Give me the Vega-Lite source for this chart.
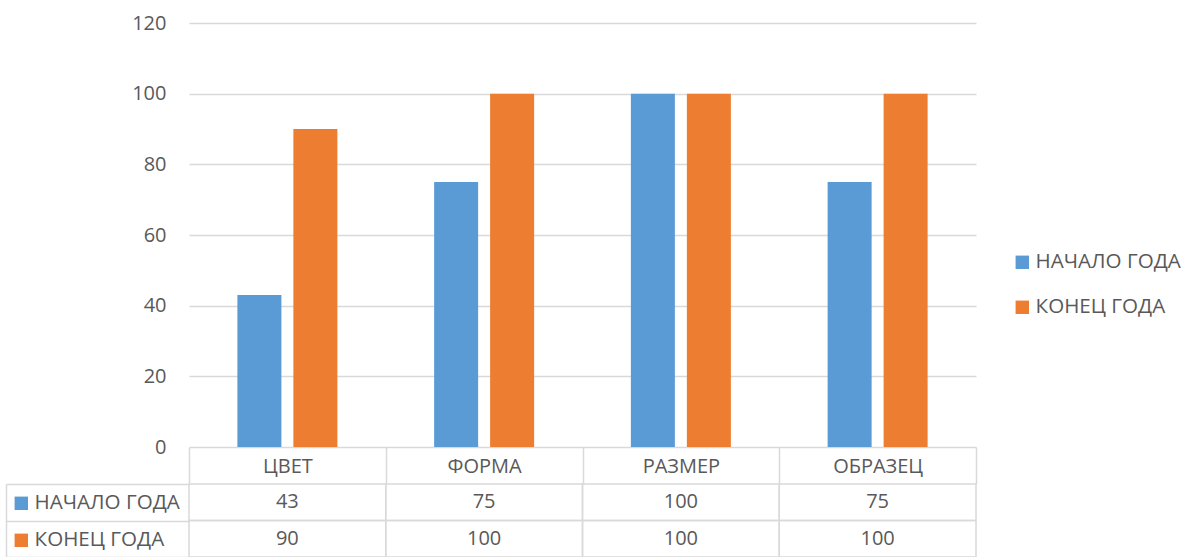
{
  "$schema": "https://vega.github.io/schema/vega-lite/v6.json",
  "padding": {"top": 13, "left": 5, "right": 0, "bottom": 0},
  "autosize": {"type": "pad"},
  "background": "white",
  "config": {
    "view": {"stroke": null},
    "font": "Open Sans",
    "axis": {"labelFont": "Open Sans", "labelColor": "#595959", "labelFontSize": 20},
    "legend": {"labelFont": "Open Sans", "labelColor": "#595959", "labelFontSize": 20.6}
  },
  "data": {
    "values": [
      {"category": "ЦВЕТ", "series": "НАЧАЛО ГОДА", "row": "НАЧАЛО ГОДА", "value": 43},
      {"category": "ФОРМА", "series": "НАЧАЛО ГОДА", "row": "НАЧАЛО ГОДА", "value": 75},
      {"category": "РАЗМЕР", "series": "НАЧАЛО ГОДА", "row": "НАЧАЛО ГОДА", "value": 100},
      {"category": "ОБРАЗЕЦ", "series": "НАЧАЛО ГОДА", "row": "НАЧАЛО ГОДА", "value": 75},
      {"category": "ЦВЕТ", "series": "КОНЕЦ ГОДА", "row": "КОНЕЦ ГОДА", "value": 90},
      {"category": "ФОРМА", "series": "КОНЕЦ ГОДА", "row": "КОНЕЦ ГОДА", "value": 100},
      {"category": "РАЗМЕР", "series": "КОНЕЦ ГОДА", "row": "КОНЕЦ ГОДА", "value": 100},
      {"category": "ОБРАЗЕЦ", "series": "КОНЕЦ ГОДА", "row": "КОНЕЦ ГОДА", "value": 100}
    ]
  },
  "vconcat": [
    {
      "width": 787,
      "height": 424,
      "mark": {"type": "bar"},
      "encoding": {
        "x": {
          "field": "category", "type": "nominal",
          "sort": ["ЦВЕТ", "ФОРМА", "РАЗМЕР", "ОБРАЗЕЦ"],
          "scale": {"paddingInner": 0, "paddingOuter": 0},
          "axis": {
            "title": null, "domain": false, "labelAngle": 0,
            "ticks": true, "tickBand": "extent", "tickSize": 37, "tickColor": "#d9d9d9", "tickWidth": 1.5,
            "labelBaseline": "middle", "labelPadding": -18
          }
        },
        "xOffset": {
          "field": "series", "type": "nominal",
          "sort": ["НАЧАЛО ГОДА", "КОНЕЦ ГОДА"],
          "scale": {"paddingInner": 0.214, "paddingOuter": 0.864}
        },
        "y": {
          "field": "value", "type": "quantitative",
          "scale": {"domain": [0, 120], "nice": false},
          "axis": {
            "title": null, "domain": false, "ticks": false,
            "values": [0, 20, 40, 60, 80, 100, 120],
            "labelPadding": 23, "gridColor": "#d9d9d9", "gridWidth": 1.5
          }
        },
        "color": {
          "field": "series", "type": "nominal",
          "sort": ["НАЧАЛО ГОДА", "КОНЕЦ ГОДА"],
          "scale": {"domain": ["НАЧАЛО ГОДА", "КОНЕЦ ГОДА"], "range": ["#5B9BD5", "#ED7D31"]},
          "legend": {
            "title": null, "orient": "none", "legendX": 823, "legendY": 229,
            "symbolType": "square", "symbolSize": 180, "symbolStrokeWidth": 0,
            "labelOffset": 3, "rowPadding": 24, "padding": 0
          }
        }
      }
    },
    {
      "width": 787,
      "height": 73,
      "layer": [
        {
          "mark": {"type": "rect", "fill": "transparent", "stroke": "#d9d9d9", "strokeWidth": 1.5},
          "encoding": {
            "x": {"field": "category", "type": "nominal", "sort": ["ЦВЕТ", "ФОРМА", "РАЗМЕР", "ОБРАЗЕЦ"], "scale": {"paddingInner": 0, "paddingOuter": 0}, "axis": null},
            "y": {
              "field": "row", "type": "nominal", "sort": ["НАЧАЛО ГОДА", "КОНЕЦ ГОДА"],
              "scale": {"paddingInner": 0, "paddingOuter": 0},
              "axis": {
                "title": null, "labels": false, "offset": 183,
                "domain": true, "domainColor": "#d9d9d9", "domainWidth": 1.5,
                "ticks": true, "tickBand": "extent", "tickSize": -183, "tickColor": "#d9d9d9", "tickWidth": 1.5
              }
            }
          }
        },
        {
          "mark": {"type": "text", "fontSize": 20, "color": "#595959", "font": "Open Sans"},
          "encoding": {
            "x": {"field": "category", "type": "nominal", "sort": ["ЦВЕТ", "ФОРМА", "РАЗМЕР", "ОБРАЗЕЦ"]},
            "y": {"field": "row", "type": "nominal", "sort": ["НАЧАЛО ГОДА", "КОНЕЦ ГОДА"]},
            "text": {"field": "value", "type": "quantitative"}
          }
        },
        {
          "mark": {"type": "point", "opacity": 0, "filled": true},
          "encoding": {
            "x": {"field": "category", "type": "nominal", "sort": ["ЦВЕТ", "ФОРМА", "РАЗМЕР", "ОБРАЗЕЦ"]},
            "y": {"field": "row", "type": "nominal", "sort": ["НАЧАЛО ГОДА", "КОНЕЦ ГОДА"]},
            "fill": {
              "field": "row", "type": "nominal",
              "sort": ["НАЧАЛО ГОДА", "КОНЕЦ ГОДА"],
              "scale": {"range": ["#5B9BD5", "#ED7D31"]},
              "legend": {
                "title": null, "orient": "none", "legendX": -178, "legendY": 470,
                "symbolType": "square", "symbolSize": 180, "symbolStrokeWidth": 0, "symbolOpacity": 1,
                "labelOffset": 3, "rowPadding": 16, "padding": 0,
                "encode": {"symbols": {"update": {"opacity": {"value": 1}, "fillOpacity": {"value": 1}}}}
              }
            }
          }
        }
      ]
    }
  ],
  "spacing": 37,
  "bounds": "flush"
}
